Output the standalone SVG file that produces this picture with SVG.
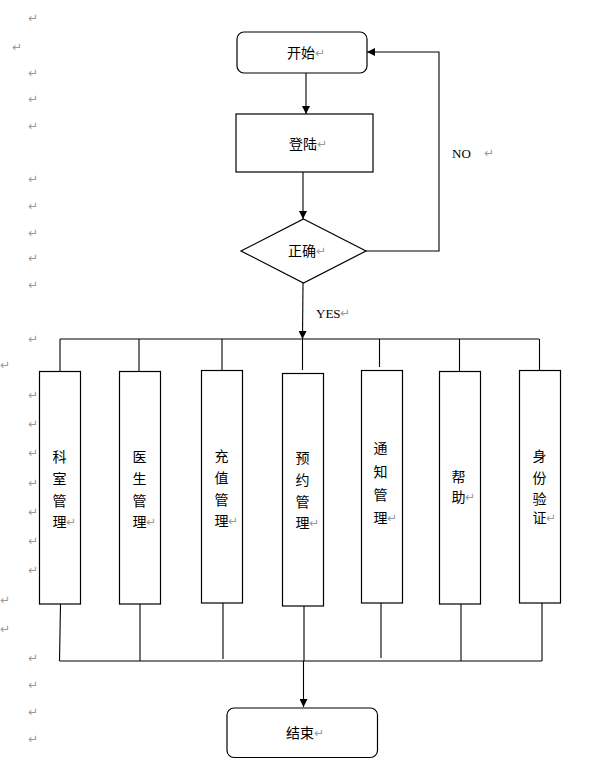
<svg xmlns="http://www.w3.org/2000/svg" width="596" height="765" viewBox="0 0 596 765">
<style>
.box{fill:#fff;stroke:#000;stroke-width:1.2}
.ln{fill:none;stroke:#000;stroke-width:1.1}
.t{font-family:"Noto Sans CJK SC","Noto Sans CJK JP",sans-serif;font-size:14px;fill:#000;text-anchor:middle}
.e{font-family:"Liberation Serif",serif;font-size:13px;fill:#000}
.m{font-family:"DejaVu Sans",sans-serif;font-size:12px;fill:#999}
</style>
<defs>
<marker id="ah" viewBox="0 0 10 10" refX="10" refY="5" markerWidth="8" markerHeight="8" markerUnits="userSpaceOnUse" orient="auto">
<path d="M0,0 L10,5 L0,10 z" fill="#000"/>
</marker>
</defs>
<g id="marks" class="m">
<text x="28" y="22">↵</text><text x="12" y="51">↵</text><text x="28" y="77">↵</text><text x="28" y="103">↵</text><text x="28" y="130">↵</text>
<text x="28" y="183">↵</text><text x="28" y="210">↵</text><text x="28" y="237">↵</text><text x="28" y="262">↵</text><text x="28" y="289">↵</text>
<text x="28" y="343">↵</text><text x="0" y="369">↵</text><text x="28" y="399">↵</text><text x="28" y="428">↵</text><text x="28" y="457">↵</text><text x="28" y="487">↵</text><text x="28" y="516">↵</text><text x="28" y="545">↵</text><text x="28" y="574">↵</text>
<text x="0" y="604">↵</text><text x="0" y="633">↵</text>
<text x="28" y="662">↵</text><text x="28" y="689">↵</text><text x="28" y="716">↵</text><text x="28" y="743">↵</text>
</g>
<g id="connectors">
<line class="ln" x1="306" y1="73" x2="306" y2="114" marker-end="url(#ah)"/>
<line class="ln" x1="303" y1="172" x2="303" y2="219" marker-end="url(#ah)"/>
<polyline class="ln" points="366,251 439,251 439,52 367,52" marker-end="url(#ah)"/>
<line class="ln" x1="303" y1="283" x2="302.5" y2="339" marker-end="url(#ah)"/>
<line class="ln" x1="60" y1="339" x2="539" y2="339"/>
<line class="ln" x1="60" y1="339" x2="60" y2="371"/>
<line class="ln" x1="139" y1="339" x2="139" y2="371"/>
<line class="ln" x1="222" y1="339" x2="222" y2="370"/>
<line class="ln" x1="302.5" y1="339" x2="302.5" y2="370"/>
<line class="ln" x1="379.5" y1="339" x2="379.5" y2="367"/>
<line class="ln" x1="459.5" y1="339" x2="459.5" y2="371"/>
<line class="ln" x1="539.5" y1="339" x2="539.5" y2="370"/>
<line class="ln" x1="60.5" y1="604" x2="59.5" y2="661"/>
<line class="ln" x1="140" y1="604" x2="140" y2="661"/>
<line class="ln" x1="223" y1="603" x2="223" y2="659"/>
<line class="ln" x1="304" y1="606" x2="304" y2="661"/>
<line class="ln" x1="381" y1="603" x2="381" y2="658"/>
<line class="ln" x1="461" y1="604" x2="461" y2="661"/>
<line class="ln" x1="542" y1="603" x2="542" y2="661"/>
<line class="ln" x1="59.5" y1="661" x2="542" y2="661"/>
<line class="ln" x1="303.5" y1="661" x2="303.5" y2="707" marker-end="url(#ah)"/>
</g>
<g id="labels">
<text class="e" x="452" y="158">NO</text><text class="m" x="484" y="157">↵</text>
<text class="e" x="316" y="318">YES</text><text class="m" x="340" y="317">↵</text>
</g>
<g id="start">
<rect class="box" x="237" y="32" width="130" height="41" rx="7"/>
<text class="t" x="301" y="58">开始</text><text class="m" x="315" y="57">↵</text>
</g>
<g id="login">
<rect class="box" x="236" y="114" width="137" height="58"/>
<text class="t" x="303" y="149">登陆</text><text class="m" x="317" y="148">↵</text>
</g>
<g id="check">
<polygon class="box" points="303.5,219 366,251 303.5,283 241,251"/>
<text class="t" x="302" y="256">正确</text><text class="m" x="316" y="255">↵</text>
</g>
<g id="n1">
<rect class="box" x="39.5" y="371.5" width="41" height="232.5"/>
<text class="t" x="59.5" y="462">科</text><text class="t" x="59.5" y="484">室</text><text class="t" x="59.5" y="506">管</text><text class="t" x="59.5" y="527">理</text><text class="m" x="66" y="526">↵</text>
</g>
<g id="n2">
<rect class="box" x="119.5" y="371.5" width="41" height="232.5"/>
<text class="t" x="139.5" y="462">医</text><text class="t" x="139.5" y="484">生</text><text class="t" x="139.5" y="506">管</text><text class="t" x="139.5" y="527">理</text><text class="m" x="146" y="526">↵</text>
</g>
<g id="n3">
<rect class="box" x="201.5" y="370.5" width="41" height="232.5"/>
<text class="t" x="221.5" y="461">充</text><text class="t" x="221.5" y="483">值</text><text class="t" x="221.5" y="505">管</text><text class="t" x="221.5" y="526">理</text><text class="m" x="228" y="525">↵</text>
</g>
<g id="n4">
<rect class="box" x="282.5" y="373.5" width="41" height="232.5"/>
<text class="t" x="302.5" y="463">预</text><text class="t" x="302.5" y="485">约</text><text class="t" x="302.5" y="507">管</text><text class="t" x="302.5" y="528">理</text><text class="m" x="309" y="527">↵</text>
</g>
<g id="n5">
<rect class="box" x="361.5" y="370.5" width="41" height="232.5"/>
<text class="t" x="380.5" y="453">通</text><text class="t" x="380.5" y="477">知</text><text class="t" x="380.5" y="500">管</text><text class="t" x="380.5" y="523">理</text><text class="m" x="387" y="522">↵</text>
</g>
<g id="n6">
<rect class="box" x="439.5" y="371.5" width="41" height="232.5"/>
<text class="t" x="458.5" y="482">帮</text><text class="t" x="458.5" y="502">助</text><text class="m" x="465" y="501">↵</text>
</g>
<g id="n7">
<rect class="box" x="519.5" y="370.5" width="41" height="232.5"/>
<text class="t" x="539.5" y="461">身</text><text class="t" x="539.5" y="483">份</text><text class="t" x="539.5" y="504">验</text><text class="t" x="539.5" y="523">证</text><text class="m" x="546" y="522">↵</text>
</g>
<g id="end">
<rect class="box" x="227" y="708" width="150.5" height="49.5" rx="7"/>
<text class="t" x="300" y="738">结束</text><text class="m" x="314" y="737">↵</text>
</g>
</svg>
